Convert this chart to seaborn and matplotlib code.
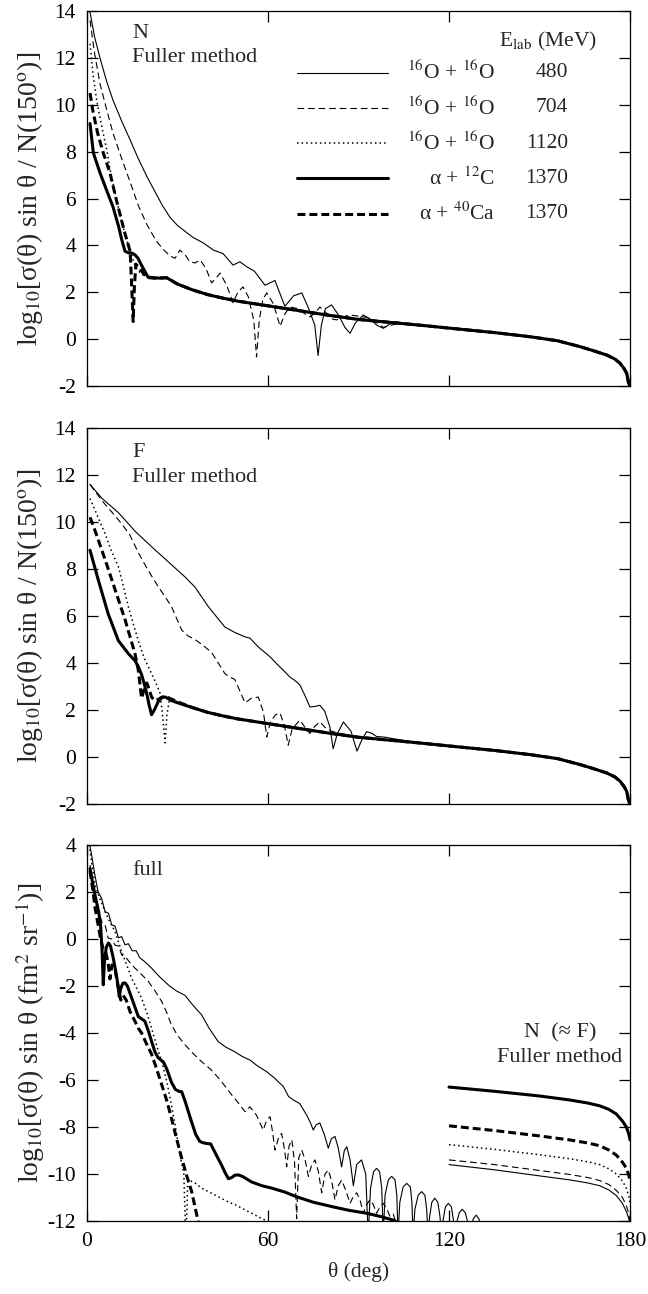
import numpy as np
import matplotlib
matplotlib.use("Agg")
import matplotlib.pyplot as plt
import seaborn as sns
from matplotlib.lines import Line2D

# ---------------- data ----------------
# shared large-angle tail (panels N and F)
TAIL_T = [26.4, 30, 35, 40, 45, 50, 55, 60, 65, 70, 75, 80, 90, 100, 110, 120, 135, 147, 156, 163.4, 168, 172.3, 175, 176.7, 178, 178.9, 179.5, 180]
TAIL_V = [2.62, 2.35, 2.1, 1.9, 1.75, 1.62, 1.52, 1.42, 1.32, 1.22, 1.12, 1.02, 0.84, 0.72, 0.6, 0.47, 0.28, 0.1, -0.07, -0.32, -0.5, -0.68, -0.85, -1.03, -1.25, -1.46, -1.85, -2.0]

# panel N
N_480_T = [0.5, 1.5, 2.5, 4.3, 6.5, 8.6, 11.5, 14.3, 17, 20, 22.5, 25, 27.5, 30, 32.5, 35, 38.6, 41.9, 45.1, 48.4, 50.7, 52.9, 55.5, 59, 62.3, 65.6, 68.5, 71.2, 73.5, 75.5, 76.6, 77.7, 79, 81.1, 83.5, 85.5, 87.2, 89, 91.6, 94, 96, 98.2, 100.5, 102.6, 104.5, 107]
N_480_V = [14.3, 13.6, 12.9, 12.0, 11.0, 10.2, 9.3, 8.5, 7.7, 6.9, 6.3, 5.7, 5.2, 4.85, 4.6, 4.35, 4.1, 3.8, 3.65, 3.16, 3.3, 3.09, 2.9, 2.3, 2.5, 1.4, 1.85, 1.97, 1.3, 0.6, -0.7, 0.6, 1.3, 1.46, 1.0, 0.5, 0.25, 0.7, 1.03, 0.85, 0.6, 0.46, 0.65, 0.74, 0.68, 0.64]
N_704_T = [1, 2.5, 4.3, 6.5, 8.6, 11.5, 14.3, 17, 19.8, 22, 23.5, 25.5, 27.5, 29.2, 30.8, 32.5, 34.1, 35.8, 37.5, 39.5, 41.3, 42.8, 44.1, 46.3, 48.4, 50, 51.7, 53.5, 55.3, 56.2, 57.1, 58.3, 59.6, 61.8, 64, 65.7, 67.3, 70, 72.5, 74, 75.8, 77.2, 79.5, 81.5, 82.8, 85, 87, 90, 93.8, 96, 98.2, 101, 104]
N_704_V = [13.6, 12.2, 10.9, 9.8, 8.8, 7.7, 6.7, 5.7, 4.9, 4.4, 4.1, 3.8, 3.55, 3.45, 3.8, 3.6, 3.3, 3.25, 3.38, 3.0, 2.4, 2.6, 2.82, 2.3, 1.55, 2.0, 2.23, 1.8, 0.8, -0.76, 0.8, 1.7, 1.97, 1.5, 0.55, 1.1, 1.37, 1.3, 1.05, 0.95, 1.15, 1.37, 1.1, 0.85, 0.82, 0.95, 1.03, 0.98, 0.9, 0.7, 0.5, 0.6, 0.68]
N_1120_T = [1, 2, 3.2, 5, 6.5, 8, 9.8, 11.5, 13.1, 14.5, 16, 17.5, 19, 21]
N_1120_V = [12.6, 11.3, 10.2, 9.0, 8.1, 7.0, 5.95, 5.0, 4.25, 3.7, 3.1, 2.85, 2.7, 2.65]
N_A12_T = [1, 2.1, 4.3, 6.5, 8.6, 10.5, 11.5, 12.6, 13.8, 14.8, 15.9, 16.9, 18.5, 20.2, 22, 24.2]
N_A12_V = [9.2, 7.95, 7.1, 6.35, 5.65, 4.8, 4.25, 3.75, 3.68, 3.67, 3.6, 3.45, 3.05, 2.65, 2.62, 2.6]
N_A40_T = [1, 2, 3.5, 5.5, 7.6, 10, 12.6, 14.3, 14.9, 15.3, 15.7, 16.2, 17.5, 19, 20.5, 22.5]
N_A40_V = [10.5, 9.7, 8.8, 7.9, 7.1, 5.8, 4.5, 3.75, 2.0, 0.75, 2.2, 3.2, 3.0, 2.75, 2.62, 2.6]

# panel F
F_480_T = [1, 5, 10.4, 16, 21.4, 27, 32.5, 35.8, 40.2, 45.7, 49, 52.4, 54, 56.8, 58.5, 60.7, 63, 65, 67.3, 69, 70.6, 72.3, 73.9, 75.5, 77.2, 78.8, 80.5, 81.6, 83, 85, 87.5, 89.5, 91, 92.7, 94.5, 96, 98.5, 101.5]
F_480_V = [11.6, 11.0, 10.4, 9.6, 8.95, 8.3, 7.66, 7.23, 6.4, 5.53, 5.3, 5.11, 5.06, 4.68, 4.5, 4.26, 3.95, 3.7, 3.4, 3.25, 3.06, 2.6, 2.13, 2.15, 2.2, 1.95, 1.28, 0.35, 1.0, 1.49, 1.1, 0.25, 0.7, 1.08, 1.0, 0.87, 0.85, 0.78]
F_704_T = [1, 5, 10.4, 14, 17, 20, 23.6, 26, 28, 29.7, 31.4, 33.5, 35.8, 38.5, 41.3, 43.5, 45.7, 47.3, 49, 50.7, 52.4, 54.5, 56.8, 58.5, 59.6, 60.8, 62.5, 64, 65.5, 66.7, 68, 70.6, 72.3, 73.9, 75.5, 77.2, 79, 81, 84]
F_704_V = [11.6, 10.9, 10.1, 9.5, 8.7, 8.0, 7.25, 6.8, 6.4, 5.9, 5.4, 5.15, 5.0, 4.75, 4.45, 4.0, 3.55, 3.4, 3.3, 2.8, 2.3, 2.5, 2.55, 1.9, 0.85, 1.5, 1.8, 1.87, 1.3, 0.5, 1.2, 1.57, 1.25, 1.0, 1.3, 1.5, 1.25, 1.1, 1.0]
F_1120_T = [1, 3, 6, 8, 10.4, 12, 13.7, 15.5, 17, 19, 21.4, 23, 24.2, 25.1, 25.9, 26.5, 27.2, 28.5]
F_1120_V = [11.0, 10.4, 9.5, 8.8, 8.1, 7.3, 6.4, 5.6, 4.95, 4.2, 3.55, 3.1, 2.72, 1.7, 0.6, 1.8, 2.35, 2.45]
F_A12_T = [1, 3.7, 7, 10.4, 13.7, 15.9, 17, 18.1, 19, 19.8, 20.6, 21.4, 22.3, 23.6, 25, 26, 28, 30.2]
F_A12_V = [8.8, 7.55, 6.1, 4.95, 4.4, 4.1, 3.85, 3.5, 3.1, 2.7, 2.2, 1.8, 2.0, 2.35, 2.55, 2.55, 2.4, 2.3]
F_A40_T = [1, 2.2, 3.7, 6, 8.2, 10.4, 12.6, 14.3, 15.9, 17, 18.1, 19, 19.8, 20.6, 21.4, 22.5, 23.6, 25, 26.5]
F_A40_V = [10.2, 9.8, 9.25, 8.4, 7.55, 6.7, 5.85, 5.1, 4.4, 3.7, 2.5, 2.9, 3.15, 2.9, 2.55, 2.4, 2.45, 2.55, 2.55]

# panel full
L_480_T = [0.5, 1.5, 2.5, 3.7, 4.8, 6, 7.1, 8.2, 9.3, 10.4, 11.5, 12.6, 13.7, 15, 16.3, 17.5, 19, 21.4, 24, 27, 29.5, 32.5, 35, 38, 40.5, 43.5, 46, 49, 51.5, 54, 56.5, 59.6, 62, 65.1, 66.8, 68.4, 70.5, 72.8, 74, 75, 76, 77.2, 78.6, 80, 81, 82.2, 83.3, 84.4, 85.3, 86.1, 87.2, 88.3, 89.4, 91, 92.4,
           93.2, 94.0, 95.0, 96.0, 97.0, 97.7, 98.2, 98.8, 99.9, 101.0, 102.1, 102.7, 103.1, 103.7, 104.8, 106.0, 107.2, 107.7, 108.1, 108.7, 109.8, 110.9, 112.0, 112.6, 113.1, 113.6, 114.3, 115.3, 116.3, 117.0, 117.5, 118.0, 118.8, 119.8, 120.8, 121.5, 122.0, 122.5, 123.4, 124.4, 125.4, 126.3, 126.8, 127.3, 128.1, 129.0, 129.9, 130.5, 131.0]
L_480_V = [4.3, 3.6, 2.8, 2.0, 1.75, 1.16, 1.1, 0.6, 0.55, 0.05, 0.1, -0.25, -0.2, -0.5, -0.5, -0.8, -0.95, -1.24, -1.6, -1.96, -2.2, -2.4, -2.8, -3.23, -3.8, -4.37, -4.6, -4.8, -5.0, -5.15, -5.4, -5.65, -5.9, -6.28, -6.7, -6.85, -7.0, -7.49, -7.8, -8.13, -7.9, -7.83, -8.3, -8.9, -8.5, -8.4, -8.9, -9.7, -9.0, -8.84, -9.4, -10.5, -9.6, -9.4, -10.0,
           -12.6, -10.6, -9.9, -9.76, -9.9, -10.6, -12.6, -10.9, -10.25, -10.1, -10.25, -10.9, -12.6, -11.2, -10.55, -10.4, -10.55, -11.2, -12.6, -11.5, -10.9, -10.75, -10.9, -11.5, -12.6, -11.8, -11.2, -11.03, -11.2, -11.8, -12.6, -12.0, -11.4, -11.25, -11.4, -12.0, -12.6, -12.1, -11.65, -11.5, -11.65, -12.1, -12.6, -12.2, -11.9, -11.75, -11.9, -12.2, -12.6]
L_704_T = [1, 2.7, 3.8, 4.9, 6, 7, 8.2, 9.3, 10.4, 11.5, 13, 14.5, 15.9, 18, 20.3, 22.5, 24.8, 26.5, 28, 30, 32.5, 35, 38, 41, 43.5, 46, 48, 50, 52.4, 54, 56.2, 58.4, 59.6, 60.7, 61.5, 62.3, 63.4, 64.5, 65.4, 66.2, 67.0, 67.9, 68.8, 69.5, 70.2, 71.2, 72.3, 73.4, 74.5, 75.6, 76.7, 77.8, 78.9, 80, 81.1, 82.2, 83.3, 84.4, 85.8, 87.2, 88.3, 89.4, 90.5, 91.6, 92.7, 93.8, 94.9, 96, 97.1, 98.2, 99.3, 100.4, 101.5, 102.5]
L_704_V = [3.15, 1.5, 1.2, 0.74, 0.6, 0.04, 0.0, -0.26, -0.3, -0.68, -0.8, -1.05, -1.24, -1.5, -1.8, -2.2, -2.67, -3.15, -3.66, -4.1, -4.5, -4.85, -5.22, -5.55, -5.9, -6.3, -6.64, -6.95, -7.35, -7.14, -7.5, -8.13, -7.7, -7.56, -8.2, -8.98, -8.5, -8.27, -8.9, -9.69, -8.8, -8.55, -9.5, -11.9, -9.3, -8.98, -9.4, -10.1, -9.6, -9.4, -9.9, -10.8, -10.0, -9.83, -10.3, -11.1, -10.5, -10.26, -10.7, -11.25, -10.95, -10.8, -11.1, -11.67, -11.3, -11.1, -11.3, -11.67, -11.4, -11.25, -11.45, -11.8, -11.7, -12.1]
L_1120_T = [0.5, 1.5, 2.7, 4, 6, 7.5, 9.3, 11.5, 13, 14.8, 16.5, 18.1, 20, 21.4, 23, 24.8, 26.5, 28, 29.2, 30.3, 31.3, 32.1, 32.8, 33.4, 34.5, 36, 38, 41, 44, 47, 49, 52, 55, 58, 60.5]
L_1120_V = [4.2, 3.3, 2.3, 1.8, 1.16, 0.75, 0.31, -0.54, -1.05, -1.67, -2.1, -2.52, -3.2, -3.8, -4.5, -5.22, -6.1, -7.06, -7.9, -8.77, -9.5, -10.0, -13.0, -10.3, -10.3, -10.4, -10.6, -10.8, -11.0, -11.2, -11.3, -11.5, -11.7, -11.9, -12.05]
L_A12_T = [1, 2, 3, 3.8, 4.5, 5.0, 5.4, 5.8, 6.4, 7.1, 7.8, 8.6, 9.5, 10.2, 10.7, 11.2, 11.9, 12.6, 13.4, 14.5, 15.9, 17, 18.1, 19.2, 20.3, 21.4, 22.5, 23.6, 24.5, 25.3, 26.5, 28, 29.3, 30.4, 31.4, 32.5, 33.6, 34.7, 36, 37.3, 38.2, 39.5, 41, 42.5, 43.5, 44.6, 45.8, 46.9, 48, 49, 50.2, 51.5, 52.8, 54.6, 58, 61.2, 65.6, 69.5, 75, 81.6, 87, 92.7, 97, 101.5, 103.5]
L_A12_V = [3.0, 2.3, 1.65, 1.2, 0.6, -0.5, -1.95, -0.9, -0.35, -0.17, -0.3, -0.75, -1.35, -1.9, -2.45, -2.1, -1.88, -1.87, -2.0, -2.4, -2.9, -3.3, -3.4, -3.5, -3.9, -4.35, -4.8, -5.05, -5.15, -5.23, -5.55, -6.1, -6.4, -6.48, -6.5, -6.9, -7.35, -7.8, -8.3, -8.6, -8.66, -8.7, -8.72, -9.1, -9.35, -9.62, -9.95, -10.2, -10.15, -10.05, -10.04, -10.1, -10.2, -10.34, -10.5, -10.6, -10.77, -10.97, -11.2, -11.4, -11.55, -11.67, -11.8, -11.96, -12.1]
L_A40_T = [1, 2, 2.7, 3.7, 4.5, 5.3, 6.2, 7, 7.6, 8.3, 9.3, 10.4, 11.2, 12, 13, 14.3, 15.9, 17, 18.1, 19.5, 21.4, 23, 24.8, 26.5, 28, 29.5, 31.4, 33, 34.7, 35.8, 37]
L_A40_V = [2.9, 2.0, 1.3, 0.6, 0.0, -0.4, -0.55, -1.0, -1.7, -1.1, -1.3, -2.1, -2.6, -2.4, -2.6, -3.1, -3.5, -3.8, -4.0, -4.4, -4.9, -5.5, -6.21, -6.9, -7.63, -8.4, -9.33, -10.05, -10.75, -11.4, -12.1]

# panel full, backward part N (~F), Fuller method
R_T = [120, 135, 150, 160, 166, 170, 173, 175.5, 177.5, 178.8, 179.6, 180]
R_480_V = [-9.6, -9.82, -10.08, -10.25, -10.38, -10.5, -10.68, -10.92, -11.25, -11.6, -11.9, -12.2]
R_704_V = [-9.4, -9.6, -9.85, -10.02, -10.15, -10.28, -10.45, -10.7, -11.0, -11.35, -11.7, -12.0]
R_1120_V = [-8.75, -8.95, -9.18, -9.35, -9.48, -9.6, -9.78, -10.0, -10.3, -10.6, -10.95, -11.2]
R_A12_V = [-6.3, -6.48, -6.68, -6.85, -6.98, -7.1, -7.25, -7.45, -7.75, -8.0, -8.3, -8.55]
R_A40_V = [-7.95, -8.15, -8.38, -8.55, -8.68, -8.8, -8.98, -9.2, -9.5, -9.75, -10.05, -10.3]

REACTIONS = [r"$^{16}$O + $^{16}$O", r"$^{16}$O + $^{16}$O", r"$^{16}$O + $^{16}$O",
             "α + $^{12}$C", "α + $^{40}$Ca"]
ENERGIES = ["480", "704", "1120", "1370", "1370"]
KEYS = ["480", "704", "1120", "a12", "a40"]
X_TICKS = [0, 60, 120, 180]

# ---------------- styling ----------------
sns.set_theme(style="ticks")
plt.rcParams["font.family"] = ["Liberation Serif", "DejaVu Serif"]
plt.rcParams["mathtext.fontset"] = "stix"
plt.rcParams["axes.unicode_minus"] = False

STYLE = {
    "480": dict(lw=0.8, ls="-"),
    "704": dict(lw=0.8, ls=(0, (6, 3.5))),
    "1120": dict(lw=1.1, ls=(0, (1, 2))),
    "a12": dict(lw=2.2, ls="-"),
    "a40": dict(lw=2.2, ls=(0, (2.6, 1.3))),
}


def join(ht, hv, tt, tv):
    t, v = list(ht), list(hv)
    for a, b in zip(tt, tv):
        if a > t[-1]:
            t.append(a)
            v.append(b)
    return t, v


def draw(ax, t, v, key):
    st = STYLE[key]
    sns.lineplot(x=np.asarray(t, float), y=np.asarray(v, float), ax=ax, color="black",
                 linewidth=st["lw"], linestyle=st["ls"], estimator=None, sort=False,
                 legend=False)


fig = plt.figure(figsize=(6.48, 12.94), dpi=100)
L, W = 87 / 648, 543 / 648
ax1 = fig.add_axes([L, 1 - 386 / 1294, W, 375 / 1294])
ax2 = fig.add_axes([L, 1 - 804 / 1294, W, 376 / 1294])
ax3 = fig.add_axes([L, 1 - 1221 / 1294, W, 376 / 1294])

panelN = {"480": (N_480_T, N_480_V), "704": (N_704_T, N_704_V), "1120": (N_1120_T, N_1120_V),
          "a12": (N_A12_T, N_A12_V), "a40": (N_A40_T, N_A40_V)}
panelF = {"480": (F_480_T, F_480_V), "704": (F_704_T, F_704_V), "1120": (F_1120_T, F_1120_V),
          "a12": (F_A12_T, F_A12_V), "a40": (F_A40_T, F_A40_V)}
for ax, pdata in ((ax1, panelN), (ax2, panelF)):
    for key in KEYS:
        t, v = join(pdata[key][0], pdata[key][1], TAIL_T, TAIL_V)
        draw(ax, t, v, key)

panelL = {"480": (L_480_T, L_480_V), "704": (L_704_T, L_704_V), "1120": (L_1120_T, L_1120_V),
          "a12": (L_A12_T, L_A12_V), "a40": (L_A40_T, L_A40_V)}
panelR = {"480": R_480_V, "704": R_704_V, "1120": R_1120_V, "a12": R_A12_V, "a40": R_A40_V}
for key in KEYS:
    draw(ax3, panelL[key][0], panelL[key][1], key)
    draw(ax3, R_T, panelR[key], key)

for ax, (y0, y1) in ((ax1, (-2, 14)), (ax2, (-2, 14)), (ax3, (-12, 4))):
    ax.set_xlim(0, 180)
    ax.set_ylim(y0, y1)
    ax.set_xticks(X_TICKS)
    ax.set_yticks(np.arange(y0, y1 + 1, 2))
    ax.tick_params(direction="in", length=8, width=0.9, top=True, right=True,
                   labelsize=15.5, pad=8, colors="black")
    for s in ax.spines.values():
        s.set_linewidth(0.9)
        s.set_color("black")
    ax.set_xlabel("")
    ax.set_ylabel("")
ax1.tick_params(labelbottom=False)
ax2.tick_params(labelbottom=False)

ylab1 = r"log$_{10}$[σ(θ) sin θ / N(150$^{\rm o}$)]"
ylab3 = r"log$_{10}$[σ(θ) sin θ (fm$^{2}$ sr$^{-1}$)]"
for ax, lab in ((ax1, ylab1), (ax2, ylab1), (ax3, ylab3)):
    ax.set_ylabel(lab, fontsize=20)
    ax.yaxis.label.set_va("center")
    ax.yaxis.set_label_coords(-0.105, 0.5)
ax3.set_xlabel("θ (deg)", fontsize=15.5, labelpad=8)

# panel annotations
ax1.text(0.083, 0.94, "N", transform=ax1.transAxes, fontsize=16, va="center", ha="left")
ax1.text(0.083, 0.875, "Fuller method", transform=ax1.transAxes, fontsize=16, va="center", ha="left")
ax2.text(0.083, 0.936, "F", transform=ax2.transAxes, fontsize=16, va="center", ha="left")
ax2.text(0.083, 0.868, "Fuller method", transform=ax2.transAxes, fontsize=16, va="center", ha="left")
ax3.text(0.083, 0.933, "full", transform=ax3.transAxes, fontsize=16, va="center", ha="left")
ax3.text(0.871, 0.50, "N  (≈ F)", transform=ax3.transAxes, fontsize=16, va="center", ha="center")
ax3.text(0.871, 0.436, "Fuller method", transform=ax3.transAxes, fontsize=16, va="center", ha="center")

# legend
handles = [Line2D([], [], color="black", linewidth=STYLE[k]["lw"], linestyle=STYLE[k]["ls"]) for k in KEYS]
leg = ax1.legend(handles, [" "] * 5, loc="upper left", bbox_to_anchor=(0.387, 0.856),
                 frameon=False, handlelength=4.1, handletextpad=0.2, labelspacing=0.66,
                 fontsize=16, borderpad=0, borderaxespad=0)
ax1.text(0.939, 0.92, r"E$_{\rm lab}$ (MeV)", transform=ax1.transAxes, fontsize=15.5,
         ha="right", va="center")
fig.canvas.draw()
renderer = fig.canvas.get_renderer()
inv = ax1.transAxes.inverted()
for line, react, en in zip(leg.get_lines(), REACTIONS, ENERGIES):
    bb = line.get_window_extent(renderer)
    yc = 0.5 * (bb.y0 + bb.y1)
    ya = inv.transform((0, yc))[1]
    ax1.text(0.751, ya, react, transform=ax1.transAxes, fontsize=15.5, ha="right", va="center")
    ax1.text(0.886, ya, en, transform=ax1.transAxes, fontsize=15.5, ha="right", va="center")

fig.savefig("out.png", dpi=100)
